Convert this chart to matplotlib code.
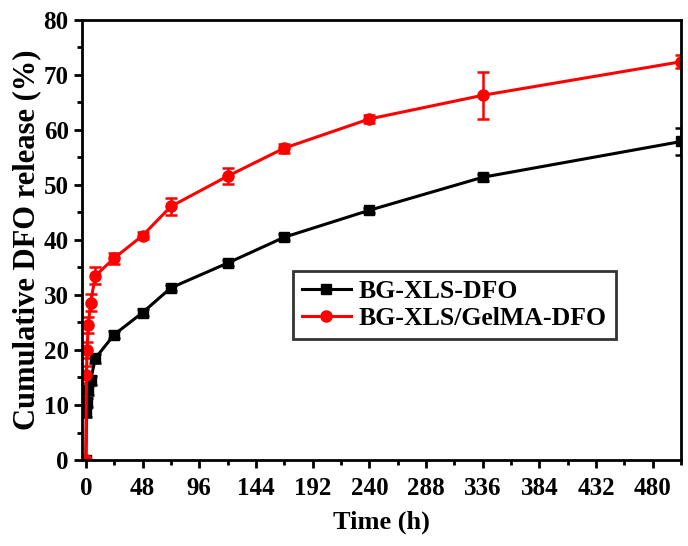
import matplotlib
matplotlib.use("Agg")
import matplotlib.pyplot as plt
from matplotlib.ticker import MultipleLocator

plt.rcParams['font.family'] = ['Liberation Serif', 'DejaVu Serif']
plt.rcParams['font.weight'] = 'bold'

time_h = [0, 0.5, 1, 2, 4, 8, 24, 48, 72, 120, 168, 240, 336, 504]
bg_xls = [0, 8.7, 10.5, 12.7, 14.5, 18.5, 22.8, 26.8, 31.3, 35.8, 40.5, 45.4, 51.4, 57.9]
bg_xls_err = [0, 0.8, 0.8, 0.8, 0.8, 0.8, 0.6, 0.6, 0.6, 0.6, 0.5, 0.5, 0.6, 2.5]
gelma = [0, 15.5, 20.0, 24.5, 28.6, 33.5, 36.7, 40.8, 46.1, 51.6, 56.7, 62.0, 66.3, 72.4]
gelma_err = [0, 1.5, 1.5, 1.5, 1.5, 1.5, 1.0, 0.6, 1.5, 1.5, 0.8, 0.8, 4.3, 1.2]
xticks = [0, 48, 96, 144, 192, 240, 288, 336, 384, 432, 480]

fig = plt.figure(figsize=(6.88, 5.46), dpi=100)
ax = fig.add_axes([0.119, 0.1575, 0.871, 0.806])

eb1 = ax.errorbar(time_h, bg_xls, yerr=bg_xls_err, color='black', marker='s', markersize=7,
                  linewidth=2.2, capsize=4, elinewidth=1.8, capthick=1.8, label='BG-XLS-DFO')
eb2 = ax.errorbar(time_h, gelma, yerr=gelma_err, color='#ff0000', marker='o', markersize=8,
                  linewidth=2.2, capsize=4, elinewidth=1.8, capthick=1.8, label='BG-XLS/GelMA-DFO')

ax.set_xlim(-3.4, 504)
ax.set_ylim(0, 80)
ax.set_xticks(xticks)
ax.xaxis.set_minor_locator(MultipleLocator(24))
ax.yaxis.set_major_locator(MultipleLocator(10))
ax.yaxis.set_minor_locator(MultipleLocator(5))
ax.tick_params(axis='both', which='major', direction='out', length=6, width=2, labelsize=18,
               top=False, right=False)
ax.tick_params(axis='x', which='major', pad=6)
ax.tick_params(axis='both', which='minor', direction='out', length=3.5, width=2,
               top=False, right=False)
for lab in ax.get_xticklabels() + ax.get_yticklabels():
    lab.set_fontweight('bold')
for s in ax.spines.values():
    s.set_linewidth(2)

ax.set_xlabel('Time (h)', fontsize=19, fontweight='bold', labelpad=8)
ax.set_ylabel('Cumulative DFO release (%)', fontsize=22, fontweight='bold', labelpad=2)

leg = ax.legend(handles=[eb1[0], eb2[0]], labels=['BG-XLS-DFO', 'BG-XLS/GelMA-DFO'],
                loc='upper left', bbox_to_anchor=(0.426, 0.503), bbox_transform=fig.transFigure,
                fontsize=18.5, frameon=True, fancybox=False, edgecolor='black',
                handlelength=1.9, handletextpad=0.3, borderpad=0.35, labelspacing=0.15,
                borderaxespad=0)
leg.get_frame().set_linewidth(2)
for t in leg.get_texts():
    t.set_fontweight('bold')

fig.savefig('out.png', dpi=100)
